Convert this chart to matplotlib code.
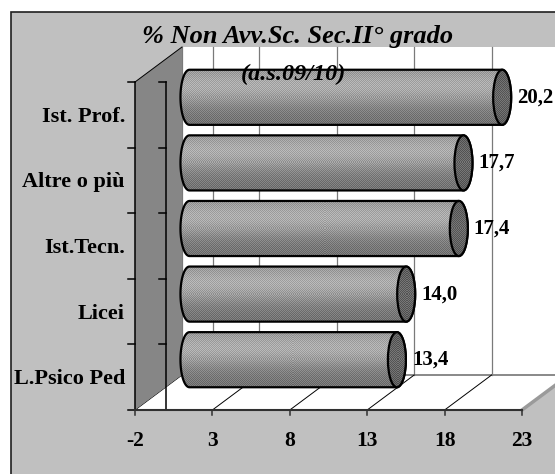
import numpy as np
import matplotlib
matplotlib.use('Agg')
import matplotlib.pyplot as plt
import matplotlib.transforms as mtransforms
from matplotlib.patches import Polygon, Rectangle, Ellipse, PathPatch
from matplotlib.path import Path

categories = ['Ist. Prof.', 'Altre o più', 'Ist.Tecn.', 'Licei', 'L.Psico Ped']
values = [20.2, 17.7, 17.4, 14.0, 13.4]
x_ticks = [-2, 3, 8, 13, 18, 23]
title = '% Non Avv.Sc. Sec.II° grado'
subtitle = '(a.s.09/10)'

W, H, DPI = 555, 474, 100
SERIF = ['Liberation Serif', 'DejaVu Serif']
XMIN, XMAX = -2, 23
CROSS = 0                 # value axis crosses the category axis here
DX, DY = 23.5, 17.5       # half depth step (pixels) between front / middle / back planes
BAR_H = 0.84
CAP_PX = 9                # horizontal radius of the cylinder ends, pixels


def shaded(nrows, ncols, base, amp):
    # vertical shading with a fine checker dither, like a printed halftone
    t = np.linspace(0, 1, nrows)[:, None]
    level = base(t) * np.ones((1, ncols))
    checker = (np.indices((nrows, ncols)).sum(axis=0) % 2) * 2 - 1
    return np.clip(level + amp * checker, 0, 1)


fig = plt.figure(figsize=(W / DPI, H / DPI), dpi=DPI)
fig.patch.set_facecolor('white')
fig.add_artist(Rectangle((11 / W, -0.1), 1.2, 1.1 - 12 / H, transform=fig.transFigure,
                         facecolor='#c0c0c0', edgecolor='#202020', lw=1.2, zorder=-10))

# middle plane of the 3d box; front and back planes are offsets of it
ax = fig.add_axes([158.5 / W, 1 - 392.5 / H, 387 / W, 328 / H])
ax.set_xlim(XMIN, XMAX)
ax.set_ylim(len(categories) - 0.5, -0.5)
ax.axis('off')

front = mtransforms.offset_copy(ax.transData, fig=fig, x=-DX, y=-DY, units='dots')
back = mtransforms.offset_copy(ax.transData, fig=fig, x=DX, y=DY, units='dots')
ident = mtransforms.IdentityTransform()
y_top, y_bot = -0.5, len(categories) - 0.5


def to_px(x, y, depth):
    px, py = ax.transData.transform((x, y))
    return px + depth * DX, py + depth * DY


# back wall with gridlines
ax.add_patch(Rectangle((XMIN, y_top), XMAX - XMIN, y_bot - y_top, transform=back,
                       facecolor='white', edgecolor='none', clip_on=False, zorder=1))
for gx in sorted(set(x_ticks + [CROSS])):
    ax.plot([gx, gx], [y_top, y_bot], transform=back, color='#7a7a7a', lw=0.9,
            clip_on=False, zorder=2)
ax.plot([XMIN, XMAX], [y_bot, y_bot], transform=back, color='#808080', lw=1.3,
        clip_on=False, zorder=2)

# floor
floor = [to_px(XMIN, y_bot, -1), to_px(XMAX, y_bot, -1), to_px(XMAX, y_bot, 1), to_px(XMIN, y_bot, 1)]
ax.add_patch(Polygon(floor, closed=True, transform=ident, facecolor='white',
                     edgecolor='none', clip_on=False, zorder=1.5))
for t in x_ticks:
    (x0, y0), (x1, y1) = to_px(t, y_bot, -1), to_px(t, y_bot, 1)
    ax.plot([x0, x1], [y0, y1], transform=ident, color='black', lw=0.7, clip_on=False, zorder=2)
(x0, y0), (x1, y1) = to_px(XMAX, y_bot, -1), to_px(XMAX, y_bot, 1)
ax.plot([x0, x1], [y0, y1], transform=ident, color='#9a9a9a', lw=2.5, clip_on=False, zorder=2)

# left wall
wall = [to_px(XMIN, y_top, -1), to_px(XMIN, y_top, 1), to_px(XMIN, y_bot, 1), to_px(XMIN, y_bot, -1)]
ax.add_patch(Polygon(wall, closed=True, transform=ident, facecolor='#868686',
                     edgecolor='none', clip_on=False, zorder=2.5))
(x0, y0), (x1, y1) = wall[0], wall[1]
ax.plot([x0, x1], [y0, y1], transform=ident, color='black', lw=0.7, clip_on=False, zorder=2.6)

# front axes: category axis at the wall and at the crossing value
for ax_x in (XMIN, CROSS):
    ax.plot([ax_x, ax_x], [y_top, y_bot], transform=front, color='black', lw=1.1,
            clip_on=False, zorder=3)
    for b in np.arange(y_top, y_bot + 0.1, 1.0):
        px, py = to_px(ax_x, b, -1)
        ax.plot([px - 7, px], [py, py], transform=ident, color='black', lw=1.1,
                clip_on=False, zorder=3)
ax.plot([XMIN, XMAX], [y_bot, y_bot], transform=front, color='#303030', lw=1.5,
        clip_on=False, zorder=3)
for t in x_ticks:
    px, py = to_px(t, y_bot, -1)
    ax.plot([px, px], [py, py - 5], transform=ident, color='#303030', lw=1.1,
            clip_on=False, zorder=3)
    ax.text(t, y_bot, str(t), transform=mtransforms.offset_copy(front, fig=fig, y=-31, units='dots'),
            ha='center', va='center', fontsize=15.5, fontweight='bold', family=SERIF)

for i, cat in enumerate(categories):
    ax.text(XMIN, i, cat, transform=mtransforms.offset_copy(front, fig=fig, x=-10, y=-2, units='dots'),
            ha='right', va='center', fontsize=16, fontweight='bold', family=SERIF)

# cylinders
px_per_x = ax.transData.transform((1, 0))[0] - ax.transData.transform((0, 0))[0]
px_per_y = ax.transData.transform((0, 0))[1] - ax.transData.transform((0, 1))[1]
rx = CAP_PX / px_per_x
ang = np.linspace(-np.pi / 2, np.pi / 2, 40)
for i, v in enumerate(values):
    top, bot = i - BAR_H / 2, i + BAR_H / 2
    right = np.column_stack([v + rx * np.cos(ang), i + BAR_H / 2 * np.sin(ang)])
    left = np.column_stack([CROSS - rx * np.cos(ang), i - BAR_H / 2 * np.sin(ang)])
    verts = np.vstack([right, left, right[:1]])
    body_path = Path(verts, closed=True)
    body = PathPatch(body_path, facecolor='none', edgecolor='black', lw=1.6,
                     clip_on=False, zorder=5)
    ax.add_patch(body)

    nrows = int(round(BAR_H * px_per_y))
    ncols = int(round((v - CROSS + 2 * rx) * px_per_x))
    img = shaded(nrows, ncols, lambda t: 0.53 + 0.17 * np.exp(-((t - 0.32) / 0.32) ** 2) - 0.08 * t, 0.06)
    im = ax.imshow(img, cmap='gray', vmin=0, vmax=1, extent=(CROSS - rx, v + rx, bot, top),
                   origin='upper', aspect='auto', interpolation='nearest', zorder=4)
    im.set_clip_path(body)

    cap = Ellipse((v, i), 2 * rx, BAR_H, facecolor='none', edgecolor='black', lw=1.6,
                  clip_on=False, zorder=6)
    ax.add_patch(cap)
    ncap = int(round(2 * rx * px_per_x))
    cimg = shaded(nrows, ncap, lambda t: 0.36 + 0.04 * np.sin(np.pi * t), 0.07)
    cim = ax.imshow(cimg, cmap='gray', vmin=0, vmax=1, extent=(v - rx, v + rx, bot, top),
                    origin='upper', aspect='auto', interpolation='nearest', zorder=5.5)
    cim.set_clip_path(cap)

    ax.annotate(f'{v:.1f}'.replace('.', ','), xy=(v, i), xytext=(15, 0), textcoords='offset pixels',
                ha='left', va='center', fontsize=15, fontweight='bold', family=SERIF,
                annotation_clip=False, zorder=7)

ax.set_xlim(XMIN, XMAX)
ax.set_ylim(y_bot, y_top)

fig.text(298 / W, 1 - 36 / H, title, ha='center', va='center', fontsize=19,
         fontweight='bold', style='italic', family=SERIF, zorder=10)
fig.text(293 / W, 1 - 74 / H, subtitle, ha='center', va='center', fontsize=17.5,
         fontweight='bold', style='italic', family=SERIF, zorder=10)

fig.savefig('out.png', dpi=DPI)
